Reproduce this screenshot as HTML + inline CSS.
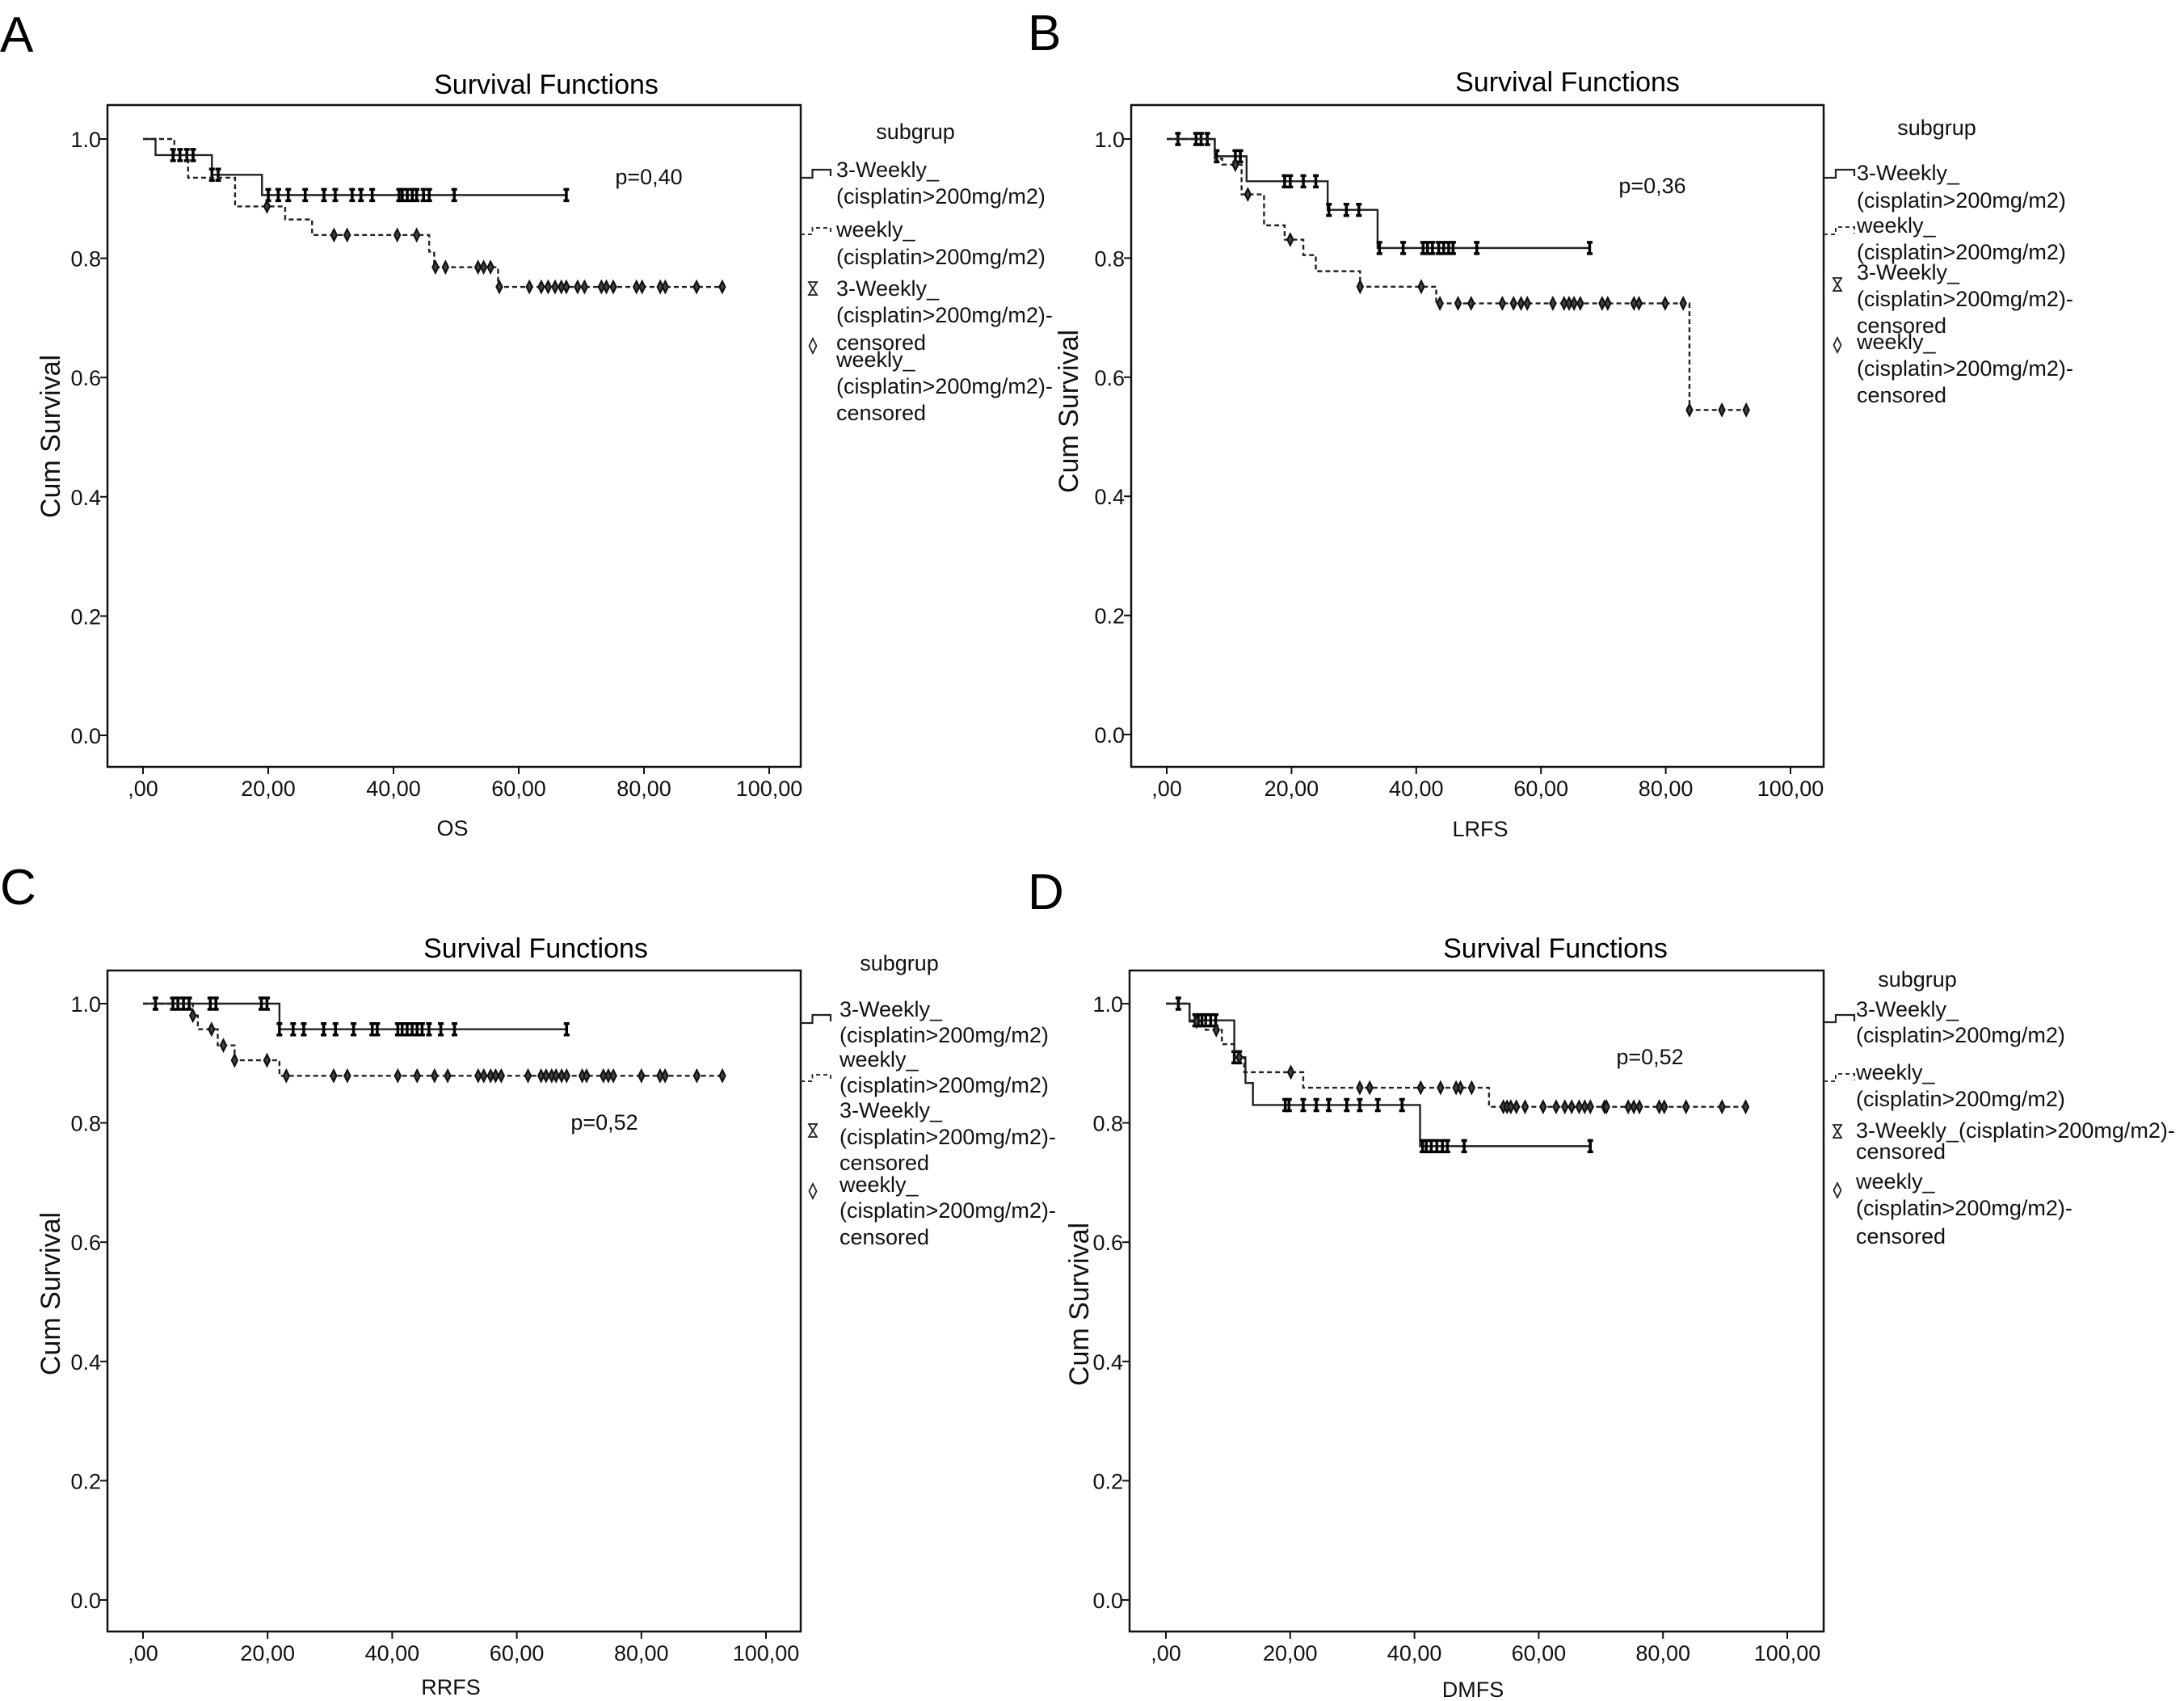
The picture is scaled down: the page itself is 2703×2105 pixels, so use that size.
<!DOCTYPE html>
<html><head><meta charset="utf-8"><style>
html,body{margin:0;padding:0;background:#fff;}
svg{display:block;font-family:"Liberation Sans",sans-serif;}
</style></head><body>
<svg id="fig" width="2703" height="2105" viewBox="0 0 2703 2105"></svg>
<script>
// ---- DATA (x = months, y = cumulative survival) ----
// Panel A (OS)
const A_solidT = [0, 2, 11, 19];
const A_solidS = [1.0, 0.973, 0.94, 0.906];
const A_solidC = [4.8,5.9,7,8,11,12,20,21.6,23.2,25.9,28.9,30.7,33.4,34.8,36.6,40.9,41.4,42.2,43,43.7,44.8,45.7,49.7,67.6];
const A_dashT = [0, 5, 7.2, 14.7, 22.7, 27, 45.7, 46.5, 56.7];
const A_dashS = [1.0, 0.973, 0.935, 0.887, 0.865, 0.839, 0.811, 0.785, 0.752];
const A_dashC = [19.8,30.5,32.6,40.6,43.7,46.7,48.3,53.5,54.4,55.5,56.9,61.7,63.6,64.7,65.8,66.8,67.6,69.4,70.5,73.2,74,75.1,78.8,79.7,82.6,83.4,88.4,92.5];
// Panel B (LRFS)
const B_solidT = [0, 7.7, 12.8, 25.8, 33.8];
const B_solidS = [1.0, 0.971, 0.929, 0.881, 0.817];
const B_solidC = [1.8,4.7,5.5,6.5,8,11,11.8,18.9,19.8,21.9,23.9,26,28.8,30.8,34.1,37.9,41.1,41.8,42.6,43.6,44.4,45.2,45.9,49.7,67.8];
const B_dashT = [0, 7.7, 8.9, 12, 15.6, 18.9, 21.9, 23.9, 31, 43.2, 83.8];
const B_dashS = [1.0, 0.967, 0.957, 0.907, 0.855, 0.831, 0.805, 0.778, 0.752, 0.724, 0.545];
const B_dashC = [11,13,19.8,31,40.8,43.8,46.7,48.8,53.8,55.6,56.8,57.8,61.9,63.7,64.5,65.3,66.3,69.8,70.7,74.9,75.7,79.9,82.8,83.8,89,92.9];
// Panel C (RRFS)
const C_solidT = [0, 21.9];
const C_solidS = [1.0, 0.957];
const C_solidC = [2,4.8,5.6,6.5,7.4,10.8,11.7,19,19.9,21.9,24.1,25.8,29,30.9,33.8,36.8,37.6,40.9,41.6,42.4,43.2,44,44.8,45.9,47.8,50,68];
const C_dashT = [0, 8, 8.8, 12, 14.7, 21.9];
const C_dashS = [1.0, 0.98, 0.957, 0.93, 0.905, 0.879];
const C_dashC = [8,11,12.9,14.7,19.9,23,30.6,32.8,40.9,44,46.8,48.9,53.8,54.7,55.8,56.6,57.5,61.8,63.9,64.7,65.6,66.3,67.2,68,70.5,71.2,73.9,74.7,75.5,80,83,83.8,88.9,93];
// Panel D (DMFS)
const D_solidT = [0, 3.8, 11, 12.8, 14, 40.9];
const D_solidS = [1.0, 0.972, 0.91, 0.867, 0.83, 0.761];
const D_solidC = [2,4.7,5.2,5.8,6.4,7.2,8,11,11.8,19.2,19.8,22.1,24.2,26.2,29.1,31.2,34.1,38,41.3,41.9,42.7,43.6,44.5,45.3,48,68.3];
const D_dashT = [0, 3.8, 6.4, 9, 11, 12.6, 22.1, 52];
const D_dashS = [1.0, 0.97, 0.956, 0.932, 0.91, 0.885, 0.859, 0.827];
const D_dashC = [4.9,8.1,11.8,20.1,31.2,32.8,41,44.2,46.7,47.4,49.2,54.3,54.9,55.5,56.4,57.8,60.7,62.8,64.2,65.3,66.5,67.4,68.3,70.6,70.9,74.4,75.3,76.2,79.4,80.2,83.7,89.5,93.3];
const yTicks = [0.0, 0.2, 0.4, 0.6, 0.8, 1.0];
const yTickLabels = ["0.0","0.2","0.4","0.6","0.8","1.0"];
const xTicks = [0, 20, 40, 60, 80, 100];
const xTickLabels = [",00","20,00","40,00","60,00","80,00","100,00"];

const NS = "http://www.w3.org/2000/svg";
const svg = document.getElementById('fig');
function mk(tag, attrs, parent, txt){
  const e = document.createElementNS(NS, tag);
  for (const k in attrs) e.setAttribute(k, attrs[k]);
  if (txt !== undefined) e.textContent = txt;
  (parent || svg).appendChild(e);
  return e;
}

const panels = [
 {id:'a', letter:'A', lx:0, ly:64, box:[133,991,130,949], x0:177, x100:952, y0:910, y1:172,
  title:[676,116], xlab:['OS',560,1034], ylab:[62,540], p:['p=0,40',803,218],
  solid:[A_solidT,A_solidS,A_solidC], dash:[A_dashT,A_dashS,A_dashC],
  legX:1035, sub:[1133,163],
  leg:[['3-Weekly_',210],['(cisplatin>200mg/m2)',243],['weekly_',284],['(cisplatin>200mg/m2)',318],['3-Weekly_',357],['(cisplatin>200mg/m2)-',390],['censored',424],['weekly_',445],['(cisplatin>200mg/m2)-',478],['censored',511]],
  ic:{solid:[991,1028,220,210], dash:[991,1028,290,282], hg:[1006,357], dm:[1006,428]}},
 {id:'b', letter:'B', lx:1272, ly:62, box:[1400,2257,130,949], x0:1444, x100:2216, y0:909, y1:172,
  title:[1940,113], xlab:['LRFS',1832,1035], ylab:[1322,509], p:['p=0,36',2045,229],
  solid:[B_solidT,B_solidS,B_solidC], dash:[B_dashT,B_dashS,B_dashC],
  legX:2298, sub:[2397,158],
  leg:[['3-Weekly_',214],['(cisplatin>200mg/m2)',248],['weekly_',279],['(cisplatin>200mg/m2)',312],['3-Weekly_',337],['(cisplatin>200mg/m2)-',370],['censored',403],['weekly_',423],['(cisplatin>200mg/m2)-',456],['censored',489]],
  ic:{solid:[2257,2295,220,210], dash:[2257,2295,290,281], hg:[2274,352], dm:[2274,427]}},
 {id:'c', letter:'C', lx:0, ly:1119, box:[133,991,1201,2019], x0:177, x100:948, y0:1980, y1:1242,
  title:[663,1185], xlab:['RRFS',558,2097], ylab:[62,1601], p:['p=0,52',748,1388],
  solid:[C_solidT,C_solidS,C_solidC], dash:[C_dashT,C_dashS,C_dashC],
  legX:1039, sub:[1113,1192],
  leg:[['3-Weekly_',1249],['(cisplatin>200mg/m2)',1281],['weekly_',1311],['(cisplatin>200mg/m2)',1343],['3-Weekly_',1374],['(cisplatin>200mg/m2)-',1407],['censored',1439],['weekly_',1466],['(cisplatin>200mg/m2)-',1498],['censored',1531]],
  ic:{solid:[991,1028,1266,1256], dash:[991,1028,1338,1330], hg:[1006,1399], dm:[1006,1474]}},
 {id:'d', letter:'D', lx:1272, ly:1125, box:[1398,2257,1201,2019], x0:1443, x100:2212, y0:1980, y1:1242,
  title:[1925,1185], xlab:['DMFS',1823,2100], ylab:[1335,1614], p:['p=0,52',2042,1307],
  solid:[D_solidT,D_solidS,D_solidC], dash:[D_dashT,D_dashS,D_dashC],
  legX:2297, sub:[2373,1212],
  leg:[['3-Weekly_',1249],['(cisplatin>200mg/m2)',1281],['weekly_',1327],['(cisplatin>200mg/m2)',1360],['3-Weekly_(cisplatin>200mg/m2)-',1399],['censored',1425],['weekly_',1462],['(cisplatin>200mg/m2)-',1495],['censored',1530]],
  ic:{solid:[2257,2295,1265,1256], dash:[2257,2295,1338,1329], hg:[2274,1400], dm:[2274,1473]}}
];

function survAt(T,S,t){ let s=S[0]; for(let i=0;i<T.length;i++){ if(T[i]<=t) s=S[i]; } return s; }

panels.forEach(P=>{
  const g = mk('g',{});
  
  
  const xs = v => P.x0 + (P.x100-P.x0)*v/100;
  const ys = v => P.y0 + (P.y1-P.y0)*v;
  const [L,R,T,B] = P.box;

  const lt = mk('text',{x:P.lx,y:P.ly,'font-size':62,fill:'#000'},g,P.letter);
  
  

  const tt = mk('text',{x:P.title[0],y:P.title[1],'font-size':34,'text-anchor':'middle',fill:'#000'},g,'Survival Functions');
  
  

  const bx = mk('rect',{x:L,y:T,width:R-L,height:B-T,fill:'none',stroke:'#111','stroke-width':2.5},g);
  
  

  yTicks.forEach((v,i)=>{
    const y = ys(v);
    const tk = mk('line',{x1:L-9,x2:L,y1:y,y2:y,stroke:'#111','stroke-width':2},g);
    
    
    const tl = mk('text',{x:L-8,y:y+10,'font-size':27,'text-anchor':'end',fill:'#111'},g,yTickLabels[i]);
    
    
  });
  xTicks.forEach((v,i)=>{
    const x = xs(v);
    const tk = mk('line',{x1:x,x2:x,y1:B,y2:B+9,stroke:'#111','stroke-width':2},g);
    
    
    const tl = mk('text',{x:x,y:B+36,'font-size':27,'text-anchor':'middle',fill:'#111'},g,xTickLabels[i]);
    
    
  });
  const xl = mk('text',{x:P.xlab[1],y:P.xlab[2],'font-size':27,'text-anchor':'middle',fill:'#111'},g,P.xlab[0]);
  
  
  const yl = mk('text',{x:0,y:0,'font-size':34,'text-anchor':'middle',fill:'#111',transform:`translate(${P.ylab[0]+12},${P.ylab[1]}) rotate(-90)`},g,'Cum Survival');
  
  
  const pt = mk('text',{x:P.p[1],y:P.p[2]+10,'font-size':27,'text-anchor':'middle',fill:'#111'},g,P.p[0]);
  
  

  function drawCurve(data, dashed, name){
    const [Tm,Sv,Cs] = data;
    const end = Math.max(Cs[Cs.length-1], Tm[Tm.length-1]);
    let d = `M${xs(Tm[0])},${ys(Sv[0])}`;
    for(let i=1;i<Tm.length;i++){
      d += ` H${xs(Tm[i])} V${ys(Sv[i])}`;
    }
    d += ` H${xs(end)}`;
    const p = mk('path',{d:d,fill:'none',stroke:'#222','stroke-width':2.4},g);
    if(dashed) p.setAttribute('stroke-dasharray','6,4');
    
    
    Cs.forEach(c=>{
      const cx = xs(c), cy = ys(survAt(Tm,Sv,c));
      let m;
      if(!dashed){
        m = mk('path',{d:`M${cx-3.5},${cy-7} H${cx+3.5} M${cx},${cy-7} V${cy+7} M${cx-3.5},${cy+7} H${cx+3.5}`,stroke:'#000','stroke-width':3.5,fill:'none'},g);
      } else {
        m = mk('path',{d:`M${cx},${cy-7} L${cx+3.5},${cy} L${cx},${cy+7} L${cx-3.5},${cy} Z`,stroke:'#111','stroke-width':2.2,fill:'#444'},g);
      }
      
      
    });
  }
  drawCurve(P.solid,false,'three-weekly');
  drawCurve(P.dash,true,'weekly');

  // legend
  const lg = mk('g',{},g);
  
  
  const st = mk('text',{x:P.sub[0],y:P.sub[1]+9,'font-size':27,'text-anchor':'middle',fill:'#111'},lg,'subgrup');
  
  
  P.leg.forEach(([t,y])=>{
    const e = mk('text',{x:P.legX,y:y+9,'font-size':27,fill:'#111'},lg,t);
    
    
  });
  const s = P.ic.solid;
  const mid = (s[0]+s[1])/2;
  const i1 = mk('path',{d:`M${s[0]},${s[2]} H${mid-4} V${s[3]} H${s[1]} V${s[3]+8}`,fill:'none',stroke:'#222','stroke-width':2.2},lg);
  
  
  const dd = P.ic.dash;
  const i2 = mk('path',{d:`M${dd[0]},${dd[2]} H${mid-4} V${dd[3]} H${dd[1]} V${dd[3]+8}`,fill:'none',stroke:'#333','stroke-width':2,'stroke-dasharray':'5,4'},lg);
  
  
  const [hx,hy] = P.ic.hg;
  const i3 = mk('path',{d:`M${hx-5},${hy-8} H${hx+5} L${hx-5},${hy+8} H${hx+5} Z`,fill:'none',stroke:'#222','stroke-width':1.8},lg);
  
  
  const [mx,my] = P.ic.dm;
  const i4 = mk('path',{d:`M${mx},${my-9} L${mx+4.5},${my} L${mx},${my+9} L${mx-4.5},${my} Z`,fill:'none',stroke:'#222','stroke-width':1.8},lg);
  
  
});
</script>
</body></html>
